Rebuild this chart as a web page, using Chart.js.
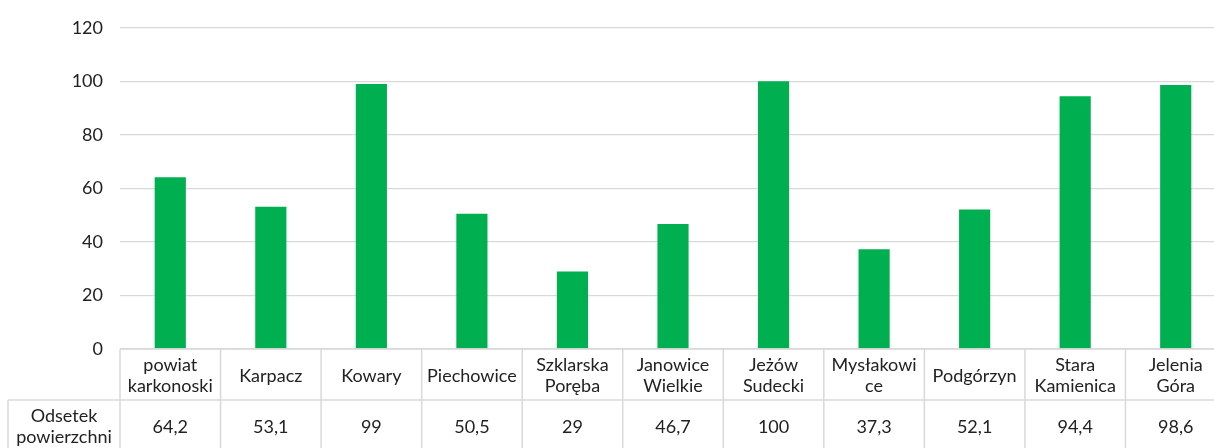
<!DOCTYPE html>
<html lang="pl">
<head>
<meta charset="utf-8">
<title>Odsetek powierzchni</title>
<script src="https://cdn.jsdelivr.net/npm/chart.js@4/dist/chart.umd.min.js"></script>
<style>
    html, body { margin: 0; padding: 0; background: #ffffff; overflow: hidden; }
    #wrap { width: 1226px; height: 448px; }
</style>
</head>
<body>
<div id="wrap"><canvas id="wykres" width="1226" height="448"></canvas></div>
<script>
// Dane
const gminy = [
    ['powiat', 'karkonoski'],
    ['Karpacz'],
    ['Kowary'],
    ['Piechowice'],
    ['Szklarska', 'Poręba'],
    ['Janowice', 'Wielkie'],
    ['Jeżów', 'Sudecki'],
    ['Mysłakowi', 'ce'],
    ['Podgórzyn'],
    ['Stara', 'Kamienica'],
    ['Jelenia', 'Góra']
];
const odsetek = [64.2, 53.1, 99, 50.5, 29, 46.7, 100, 37.3, 52.1, 94.4, 98.6];
const nazwaSerii = ['Odsetek', 'powierzchni'];
const osY = { min: 0, max: 120, krok: 20 };

const kolorSlupka = '#00B050';
const kolorLinii = '#d9d9d9';
const kolorTekstu = '#222222';
const czcionka = '18px Lato, "Open Sans", sans-serif';

function formatuj(v) {
    return String(v).replace('.', ',');
}

// Tabela danych pod wykresem
const tabelaPlugin = {
    id: 'tabela',
    afterDraw(chart) {
        const ctx = chart.ctx;
        const x = chart.scales.x;
        const area = chart.chartArea;
        const szer = (area.right - area.left) / gminy.length;
        const gora = area.bottom;
        const srodek = gora + 51;
        const dol = chart.height + 10;
        const lewaKrawedz = 8;

        ctx.save();
        ctx.strokeStyle = kolorLinii;
        ctx.lineWidth = 1.5;
        ctx.beginPath();
        ctx.moveTo(area.left, gora);
        ctx.lineTo(area.right, gora);
        ctx.moveTo(lewaKrawedz, srodek);
        ctx.lineTo(area.right, srodek);
        ctx.moveTo(lewaKrawedz, srodek);
        ctx.lineTo(lewaKrawedz, dol);
        for (let i = 0; i <= gminy.length; i++) {
            const xx = area.left + i * szer;
            ctx.moveTo(xx, gora);
            ctx.lineTo(xx, dol);
        }
        ctx.stroke();

        ctx.fillStyle = kolorTekstu;
        ctx.font = czcionka;
        ctx.textAlign = 'center';
        ctx.textBaseline = 'middle';
        const wys = 21;

        gminy.forEach((linie, i) => {
            const cx = x.getPixelForValue(i);
            const y0 = gora + 27 - (linie.length - 1) * wys / 2;
            linie.forEach((t, j) => ctx.fillText(t, cx, y0 + j * wys));
            ctx.fillText(formatuj(odsetek[i]), cx, srodek + 27);
        });

        const lx = (lewaKrawedz + area.left) / 2;
        const ly = srodek + 27 - (nazwaSerii.length - 1) * wys / 2;
        nazwaSerii.forEach((t, j) => ctx.fillText(t, lx, ly + j * wys));
        ctx.restore();
    }
};

new Chart(document.getElementById('wykres'), {
    type: 'bar',
    data: {
        labels: gminy.map(l => l.join(' ')),
        datasets: [{
            label: nazwaSerii.join(' '),
            data: odsetek,
            backgroundColor: kolorSlupka,
            categoryPercentage: 1,
            barPercentage: 0.31
        }]
    },
    options: {
        responsive: false,
        animation: false,
        layout: {
            padding: { top: 25, bottom: 99, left: 0, right: 0 }
        },
        plugins: {
            legend: { display: false },
            tooltip: { enabled: false }
        },
        scales: {
            x: {
                ticks: { display: false },
                grid: { display: false },
                border: { display: false },
                afterFit(scale) { scale.height = 0; }
            },
            y: {
                min: osY.min,
                max: osY.max,
                ticks: {
                    stepSize: osY.krok,
                    padding: 17,
                    color: kolorTekstu,
                    font: { family: 'Lato, "Open Sans", sans-serif', size: 18 }
                },
                grid: { color: kolorLinii, lineWidth: 1.3, drawTicks: false },
                border: { display: false },
                afterFit(scale) { scale.width = 120; }
            }
        }
    },
    plugins: [tabelaPlugin]
});
</script>
</body>
</html>
